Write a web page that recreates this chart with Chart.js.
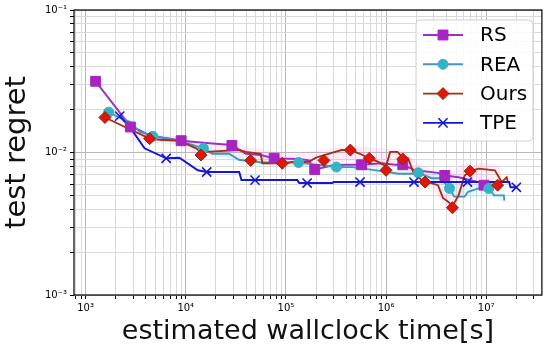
<!DOCTYPE html>
<html>
<head>
<meta charset="utf-8">
<script src="https://cdn.jsdelivr.net/npm/chart.js@4.4.0/dist/chart.umd.min.js"></script>
<style>
  html,body{margin:0;padding:0;background:#fff;}
</style>
</head>
<body>
<canvas id="chart" width="550" height="353"></canvas>
<script>
// curves: [wallclock seconds, test regret]
const rsLine = [[1.26e3,0.0316],[2.76e3,0.0155],[4.36e3,0.0132],[6.88e3,0.0125],[9.0e3,0.0121],[1.72e4,0.0116],[2.89e4,0.0113],[3.98e4,0.0098],[5.6e4,0.0096],[7.63e4,0.0091],[1.35e5,0.0090],[1.7e5,0.0088],[1.94e5,0.0076],[2.14e5,0.0077],[2.87e5,0.0081],[3.9e5,0.0082],[5.7e5,0.0082],[9.1e5,0.0084],[1.23e6,0.0082],[1.47e6,0.0082],[1.96e6,0.0075],[3.3e6,0.0072],[3.86e6,0.0069],[5.3e6,0.0067],[8.4e6,0.0062],[9.5e6,0.0059],[1.33e7,0.0060]];
const rsMarks = [[1.26e3,0.0316],[2.8e3,0.0151],[9.0e3,0.0121],[2.89e4,0.0112],[7.63e4,0.0091],[1.94e5,0.0076],[5.7e5,0.0082],[1.47e6,0.0082],[3.86e6,0.0069],[9.5e6,0.0059]];

const reaLine = [[1.7e3,0.0192],[2.2e3,0.0175],[2.76e3,0.0164],[3.45e3,0.0140],[3.88e3,0.0136],[4.7e3,0.0130],[8.6e3,0.0121],[1.5e4,0.0107],[1.84e4,0.0098],[2.7e4,0.0098],[3.4e4,0.0089],[4.3e4,0.0087],[5.8e4,0.0085],[1.34e5,0.0085],[3.2e5,0.0079],[4.6e5,0.0079],[9.1e5,0.0074],[1.34e6,0.0071],[2.0e6,0.0071],[2.1e6,0.0072],[2.85e6,0.0066],[3.5e6,0.0066],[4.3e6,0.0056],[4.8e6,0.0049],[6.1e6,0.0049],[6.6e6,0.0053],[8.4e6,0.0056],[1.06e7,0.0056],[1.2e7,0.0050],[1.5e7,0.0050],[1.52e7,0.0046]];
const reaMarks = [[1.7e3,0.0192],[4.7e3,0.0130],[1.5e4,0.0107],[1.34e5,0.0085],[3.2e5,0.0079],[2.1e6,0.0072],[4.3e6,0.0056],[1.06e7,0.0056]];

const oursLine = [[1.56e3,0.0176],[4.36e3,0.0125],[5.5e3,0.0123],[8.6e3,0.0121],[1.27e4,0.0107],[1.42e4,0.0100],[1.6e4,0.0101],[3.4e4,0.0104],[4.0e4,0.0101],[5.6e4,0.0098],[5.83e4,0.0084],[9.9e4,0.0084],[1.16e5,0.0086],[1.69e5,0.0086],[2.0e5,0.0092],[3.1e5,0.0101],[3.6e5,0.0104],[4.4e5,0.0104],[5.5e5,0.0098],[6.8e5,0.0091],[8.4e5,0.0086],[1.0e6,0.0080],[1.1e6,0.0101],[1.3e6,0.0101],[1.47e6,0.0092],[1.66e6,0.0091],[1.87e6,0.0073],[2.27e6,0.0064],[3.3e6,0.0059],[3.7e6,0.0048],[4.2e6,0.0045],[4.6e6,0.0042],[5.3e6,0.0050],[6.1e6,0.0069],[6.9e6,0.0074],[8.4e6,0.0077],[1.22e7,0.0075],[1.43e7,0.0062],[1.6e7,0.0067],[1.66e7,0.0061]];
const oursMarks = [[1.56e3,0.0176],[4.36e3,0.0125],[1.42e4,0.0096],[4.45e4,0.0088],[9.2e4,0.0084],[2.4e5,0.0088],[4.4e5,0.0104],[6.8e5,0.0091],[1.0e6,0.0075],[1.47e6,0.0090],[2.45e6,0.0062],[4.6e6,0.0041],[6.9e6,0.0074],[1.3e7,0.0059]];

const tpeLine = [[2.19e3,0.0180],[2.76e3,0.0151],[3.88e3,0.0107],[6.38e3,0.0091],[8.63e3,0.0092],[1.32e4,0.0075],[1.62e4,0.0073],[3.42e4,0.0073],[3.6e4,0.0064],[1.3e5,0.0064],[1.36e5,0.0061],[2.9e5,0.0061],[3.0e5,0.0062],[1.7e7,0.0062],[1.75e7,0.0057],[2.0e7,0.0057]];
const tpeMarks = [[2.19e3,0.0180],[6.38e3,0.0091],[1.62e4,0.0073],[4.92e4,0.0064],[1.63e5,0.0061],[5.5e5,0.0062],[1.9e6,0.0062],[6.5e6,0.0062],[2.0e7,0.0057]];

// faint spread bands
const pinkBandX = [2.8e3,4.4e3,8.0e3,1.5e4,3.0e4,6.0e4,1.2e5,2.5e5,4.5e5,8.0e5,1.5e6,2.0e6,3.0e6,4.2e6,5.5e6,7.0e6,1.0e7,1.4e7];
const pinkBandHi = [0.0142,0.0136,0.0130,0.0113,0.0112,0.0106,0.0098,0.0106,0.0112,0.0108,0.0104,0.0086,0.0074,0.0068,0.0082,0.0084,0.0084,0.0080];
const pinkBandLo = [0.0120,0.0116,0.0114,0.0092,0.0094,0.0082,0.0080,0.0082,0.0088,0.0082,0.0080,0.0064,0.0054,0.0038,0.0046,0.0064,0.0066,0.0055];
const cyanBandX = [1.5e3,3e3,5e3,1.5e4,4e4,1.3e5,3.5e5,1e6,2e6,3.5e6,4.5e6,7e6,1.1e7,1.5e7];
const cyanBandHi = [0.0205,0.0168,0.0136,0.0112,0.0092,0.0090,0.0084,0.0078,0.0076,0.0070,0.0060,0.0060,0.0060,0.0054];
const cyanBandLo = [0.0180,0.0148,0.0124,0.0100,0.0082,0.0080,0.0074,0.0070,0.0067,0.0060,0.0050,0.0048,0.0050,0.0045];

const xMin = 766, xMax = 3.6e7;
const yMin = 1e-3, yMax = 1e-1;

const series = [
  {name:"RS",   line:"#9a30c4", mark:"#a824c0", edge:"#a824c0", style:"rect",     r:7},
  {name:"REA",  line:"#4a93be", mark:"#36b2c6", edge:"#36b2c6", style:"circle",   r:5},
  {name:"Ours", line:"#a3300f", mark:"#e0160a", edge:"#8c2a0a", style:"rectRot",  r:6},
  {name:"TPE",  line:"#1616d6", mark:"#1616d6", edge:"#1616d6", style:"crossRot", r:6.5}
];

const pts = a => a.map(p => ({x:p[0], y:p[1]}));
const band = (xs, ys) => xs.map((x,i) => ({x:x, y:ys[i]}));

const sup = {"-":"\u207B","0":"\u2070","1":"\u00B9","2":"\u00B2","3":"\u00B3","4":"\u2074","5":"\u2075","6":"\u2076","7":"\u2077","8":"\u2078","9":"\u2079"};
function powLabel(v){
  const e = Math.log10(v);
  if (Math.abs(e - Math.round(e)) > 1e-6) return "";
  return "10" + String(Math.round(e)).split("").map(c => sup[c]).join("");
}
function logTicks(min, max){
  const t = [];
  for (let e = -5; e <= 9; e++){
    for (let m = 1; m <= 9; m++){
      const v = m * Math.pow(10, e);
      if (v >= min * 0.999 && v <= max * 1.001) t.push({value:v});
    }
  }
  return t;
}
function isMajor(v){
  const e = Math.log10(v);
  return Math.abs(e - Math.round(e)) < 1e-6;
}

function lineDs(s, data, order){
  return {label:s.name, data:pts(data), showLine:true, borderColor:s.line, borderWidth:1.9,
    pointRadius:0, fill:false, tension:0, order:order};
}
function markDs(s, data, order){
  return {label:s.name + " marks", data:pts(data), showLine:false,
    pointStyle:s.style, pointRadius:s.r, pointHoverRadius:s.r,
    backgroundColor:s.mark, borderColor:s.edge, borderWidth:s.style === "crossRot" ? 1.6 : 1,
    order:order};
}

const framePlugin = {
  id:"frame",
  afterDraw(chart){
    const {ctx, chartArea:a} = chart;
    ctx.save();
    ctx.strokeStyle = "#000";
    ctx.lineWidth = 1.2;
    ctx.strokeRect(a.left, a.top, a.right - a.left, a.bottom - a.top);
    ctx.restore();
  }
};

function drawMarker(ctx, s, x, y){
  ctx.save();
  ctx.fillStyle = s.mark;
  ctx.strokeStyle = s.edge;
  ctx.lineWidth = 1;
  ctx.beginPath();
  if (s.style === "rect"){
    const h = s.r * Math.SQRT1_2;
    ctx.rect(x - h, y - h, 2*h, 2*h);
    ctx.fill(); ctx.stroke();
  } else if (s.style === "circle"){
    ctx.arc(x, y, s.r, 0, Math.PI*2);
    ctx.fill(); ctx.stroke();
  } else if (s.style === "rectRot"){
    ctx.moveTo(x - s.r, y); ctx.lineTo(x, y - s.r); ctx.lineTo(x + s.r, y); ctx.lineTo(x, y + s.r);
    ctx.closePath(); ctx.fill(); ctx.stroke();
  } else {
    const h = s.r * Math.SQRT1_2;
    ctx.lineWidth = 1.6;
    ctx.moveTo(x - h, y - h); ctx.lineTo(x + h, y + h);
    ctx.moveTo(x + h, y - h); ctx.lineTo(x - h, y + h);
    ctx.stroke();
  }
  ctx.restore();
}

const legendPlugin = {
  id:"boxLegend",
  afterDraw(chart){
    const ctx = chart.ctx;
    const bx = 416, by = 20, bw = 117, bh = 121, rad = 4;
    ctx.save();
    ctx.fillStyle = "rgba(255,255,255,0.85)";
    ctx.strokeStyle = "#d0d0d0";
    ctx.lineWidth = 1;
    ctx.beginPath();
    ctx.moveTo(bx + rad, by);
    ctx.arcTo(bx + bw, by, bx + bw, by + bh, rad);
    ctx.arcTo(bx + bw, by + bh, bx, by + bh, rad);
    ctx.arcTo(bx, by + bh, bx, by, rad);
    ctx.arcTo(bx, by, bx + bw, by, rad);
    ctx.closePath();
    ctx.fill(); ctx.stroke();
    series.forEach((s, i) => {
      const y = 35 + i * 29.3;
      ctx.strokeStyle = s.line;
      ctx.lineWidth = 1.9;
      ctx.beginPath();
      ctx.moveTo(423, y); ctx.lineTo(463, y);
      ctx.stroke();
      drawMarker(ctx, s, 443, y);
      ctx.fillStyle = "#000";
      ctx.font = "20px 'DejaVu Sans'";
      ctx.textBaseline = "middle";
      ctx.fillText(s.name, 480, y + 1);
    });
    ctx.restore();
  }
};

function initChart(){
  const ctx = document.getElementById("chart").getContext("2d");
  Chart.defaults.font.family = "'DejaVu Sans', sans-serif";
  Chart.defaults.color = "#000";

  new Chart(ctx, {
    type:"scatter",
    data:{
      datasets:[
        {label:"pink lo", data:band(pinkBandX, pinkBandLo), showLine:true, borderWidth:0, pointRadius:0, fill:false, order:20},
        {label:"pink hi", data:band(pinkBandX, pinkBandHi), showLine:true, borderWidth:0, pointRadius:0, fill:"-1", backgroundColor:"rgba(255,120,230,0.14)", order:19},
        {label:"cyan lo", data:band(cyanBandX, cyanBandLo), showLine:true, borderWidth:0, pointRadius:0, fill:false, order:18},
        {label:"cyan hi", data:band(cyanBandX, cyanBandHi), showLine:true, borderWidth:0, pointRadius:0, fill:"-1", backgroundColor:"rgba(90,240,240,0.14)", order:17},
        lineDs(series[0], rsLine, 12),
        lineDs(series[1], reaLine, 11),
        lineDs(series[2], oursLine, 10),
        Object.assign(lineDs(series[3], tpeLine, 9), {borderWidth:2}),
        markDs(series[0], rsMarks, 8),
        markDs(series[1], reaMarks, 7),
        markDs(series[2], oursMarks, 6),
        markDs(series[3], tpeMarks, 5)
      ]
    },
    options:{
      responsive:false,
      animation:false,
      devicePixelRatio:1,
      layout:{ padding:{top:10, right:6, left:0, bottom:0} },
      plugins:{ legend:{display:false}, tooltip:{enabled:false} },
      scales:{
        x:{
          type:"logarithmic", min:xMin, max:xMax,
          afterBuildTicks: s => { s.ticks = logTicks(s.min, s.max); },
          afterFit: s => { s.height = 58; },
          ticks:{ autoSkip:false, maxRotation:0, padding:3, font:{size:10}, color:"#000",
            callback: v => powLabel(v) },
          grid:{ color: c => isMajor(c.tick.value) ? "#b8b8b8" : "#dadada",
            tickColor:"#000", tickLength:4, lineWidth:1 },
          border:{display:false},
          title:{ display:true, text:"estimated wallclock time[s]", font:{size:27}, color:"#111",
            padding:{top:0, bottom:5} }
        },
        y:{
          type:"logarithmic", min:yMin, max:yMax,
          afterBuildTicks: s => { s.ticks = logTicks(s.min, s.max); },
          afterFit: s => { s.width = 74; },
          ticks:{ autoSkip:false, padding:3, font:{size:10}, color:"#000",
            callback: v => powLabel(v) },
          grid:{ color: c => isMajor(c.tick.value) ? "#b8b8b8" : "#dadada",
            tickColor:"#000", tickLength:4, lineWidth:1 },
          border:{display:false},
          title:{ display:true, text:"test regret", font:{size:29}, color:"#111",
            padding:{top:0, bottom:4} }
        }
      }
    },
    plugins:[framePlugin, legendPlugin]
  });
}

initChart();
</script>
</body>
</html>
